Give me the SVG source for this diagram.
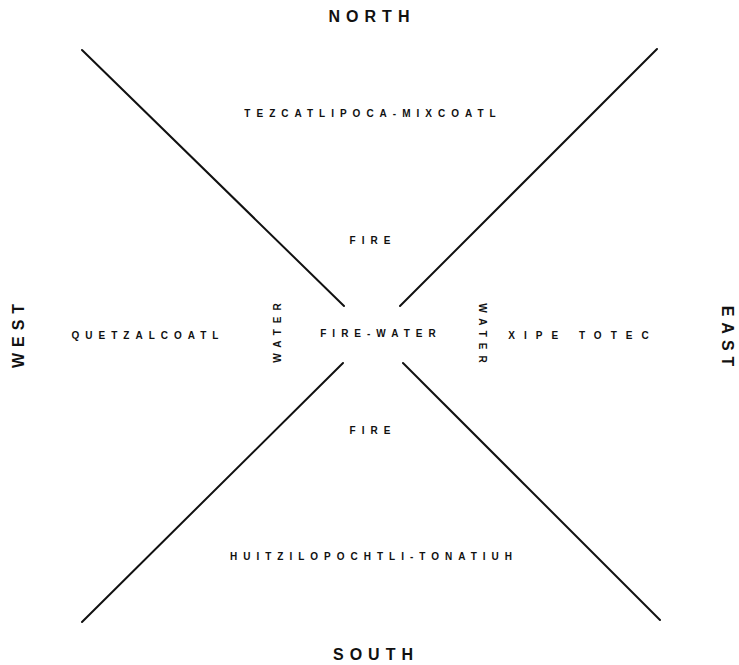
<svg xmlns="http://www.w3.org/2000/svg" width="739" height="665" viewBox="0 0 739 665">
<style>
text{font-family:"Liberation Sans",Arial,sans-serif;font-weight:bold;fill:#111;text-anchor:middle}
.dir{font-size:16px;letter-spacing:6px}
.lbl{font-size:10px;letter-spacing:6px}
.ln{stroke:#111;stroke-width:2;stroke-linecap:round;fill:none}
</style>
<rect width="739" height="665" fill="#fff"/>
<g id="connectors">
<line class="ln" x1="82" y1="50" x2="344" y2="306"/>
<line class="ln" x1="657" y1="49" x2="400" y2="306"/>
<line class="ln" x1="343" y1="363" x2="82" y2="622"/>
<line class="ln" x1="403" y1="363" x2="660" y2="620"/>
</g>
<g id="north"><text class="dir" x="372" y="22">NORTH</text></g>
<g id="south"><text class="dir" x="376" y="660">SOUTH</text></g>
<g id="west"><text class="dir" transform="translate(24,336) rotate(-90)" x="3" y="0">WEST</text></g>
<g id="east"><text class="dir" transform="translate(722,336) rotate(90)" x="3" y="0">EAST</text></g>
<g id="tezcatlipoca"><text class="lbl" x="373" y="117">TEZCATLIPOCA-MIXCOATL</text></g>
<g id="fire-n"><text class="lbl" x="373" y="244">FIRE</text></g>
<g id="firewater"><text class="lbl" x="381" y="337">FIRE-WATER</text></g>
<g id="fire-s"><text class="lbl" x="373" y="434">FIRE</text></g>
<g id="quetzalcoatl"><text class="lbl" x="148" y="339">QUETZALCOATL</text></g>
<g id="xipe"><text class="lbl" x="583" y="339" style="letter-spacing:9px">XIPE TOTEC</text></g>
<g id="huitzilopochtli"><text class="lbl" x="374" y="560">HUITZILOPOCHTLI-TONATIUH</text></g>
<g id="water-w"><text class="lbl" transform="translate(281,333) rotate(-90)" x="3" y="0">WATER</text></g>
<g id="water-e"><text class="lbl" transform="translate(479,333) rotate(90)" x="3" y="0">WATER</text></g>
</svg>
